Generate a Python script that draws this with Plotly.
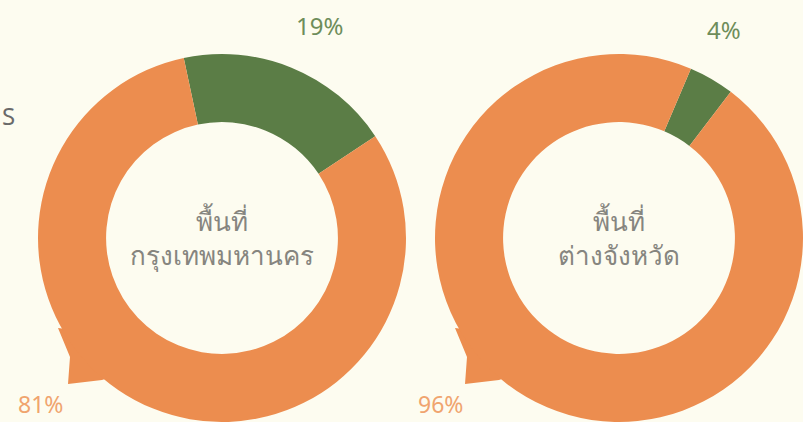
import plotly.graph_objects as go

# data
regions = ["พื้นที่<br>กรุงเทพมหานคร", "พื้นที่<br>ต่างจังหวัด"]
slice_names = ["ส่วนน้อย", "ส่วนใหญ่"]
bangkok_pct = [19, 81]
province_pct = [4, 96]

W, H = 803, 422
GREEN = "#5b7d46"
ORANGE = "#ec8d4f"
BG = "#fdfcf0"
R = 184


def px_x(x):
    return x / W


def px_y(y):
    return 1 - y / H


fig = go.Figure()

# donut rings, centres in pixels
centres = [(222, 238), (619, 238)]
rotations = [-12, 23]
for (cx, cy), vals, rot in zip(centres, [bangkok_pct, province_pct], rotations):
    fig.add_trace(go.Pie(
        labels=slice_names,
        values=vals,
        hole=0.63,
        sort=False,
        direction="clockwise",
        rotation=rot,
        marker=dict(colors=[GREEN, ORANGE], line=dict(width=0)),
        textinfo="none",
        hoverinfo="label+percent",
        showlegend=False,
        domain=dict(x=[max(0, px_x(cx - R)), min(1, px_x(cx + R))],
                    y=[max(0, px_y(cy + R)), min(1, px_y(cy - R))]),
    ))

# speech bubble tails (decoration), offsets from each donut centre
tail = [(-164, 90), (-152, 119), (-154, 146), (-120, 142), (-102, 136), (-132, 94)]
for cx, cy in centres:
    pts = [(px_x(cx + dx), px_y(cy + dy)) for dx, dy in tail]
    path = "M " + " L ".join(f"{x},{y}" for x, y in pts) + " Z"
    fig.add_shape(type="path", path=path, xref="paper", yref="paper",
                  fillcolor=ORANGE, line=dict(width=0), layer="below")

# centre titles
for (cx, cy), name in zip(centres, regions):
    fig.add_annotation(x=px_x(cx), y=px_y(cy), xref="paper", yref="paper",
                       xanchor="center", yanchor="middle",
                       text=name, showarrow=False,
                       font=dict(size=26, color="#86857f", family="Noto Sans"))

# percent labels
small_pos = [(319, 26), (724, 30)]
big_pos = [(40, 404), (440, 404)]
for (x, y), v in zip(small_pos, [bangkok_pct[0], province_pct[0]]):
    fig.add_annotation(x=px_x(x), y=px_y(y), xref="paper", yref="paper",
                       xanchor="center", yanchor="middle",
                       text=f"{v}%", showarrow=False,
                       font=dict(size=24, color="#6e8d5a", family="Noto Sans"))
for (x, y), v in zip(big_pos, [bangkok_pct[1], province_pct[1]]):
    fig.add_annotation(x=px_x(x), y=px_y(y), xref="paper", yref="paper",
                       xanchor="center", yanchor="middle",
                       text=f"{v}%", showarrow=False,
                       font=dict(size=23, color="#f0a46e", family="Noto Sans"))

# cropped letter at the left edge
fig.add_annotation(x=px_x(8), y=px_y(116), xref="paper", yref="paper",
                   xanchor="center", yanchor="middle",
                   text="S", showarrow=False,
                   font=dict(size=24, color="#6a6a6a", family="Noto Sans"))

fig.update_layout(
    autosize=False,
    width=W,
    height=H,
    margin=dict(l=0, r=0, t=0, b=0),
    paper_bgcolor=BG,
    plot_bgcolor=BG,
)

fig.write_html("out.html", config={"displayModeBar": False},
               post_script="document.body.style.margin='0';")
